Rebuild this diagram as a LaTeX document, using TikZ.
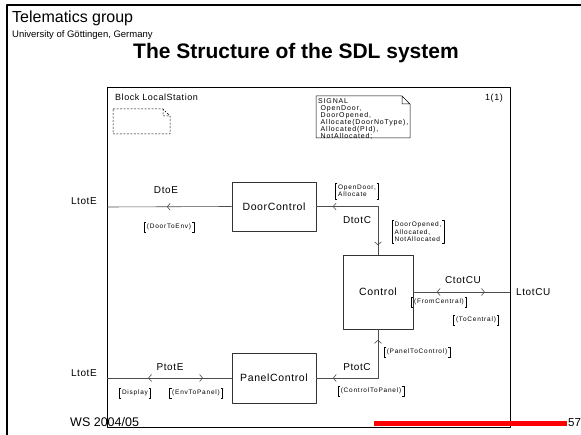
\documentclass[tikz,border=0pt]{standalone}
\usepackage{fontspec}
\setmainfont{Liberation Sans}
\newfontfamily\sdlfont[LetterSpace=6]{Liberation Sans}
\newfontfamily\sdlsmall[LetterSpace=12]{Liberation Sans}
\usetikzlibrary{arrows.meta,decorations.markings}
\tikzset{blk/.style={draw=black!80,line width=0.6pt,minimum width=84pt,minimum height=49pt,inner sep=0pt,font=\sdlfont\fontsize{10.5}{12}\selectfont},
  chan/.style={draw=black!70,line width=0.6pt,postaction=decorate},
  chname/.style={font=\sdlfont\fontsize{10}{12}\selectfont,inner sep=0pt},
  siglist/.style={font=\sdlsmall\fontsize{6.5}{7.5}\selectfont,align=left,inner xsep=2.5pt,inner ysep=1.5pt,
    append after command={\pgfextra{\draw[line width=0.4pt] ([xshift=2pt]\tikzlastnode.north west) -| (\tikzlastnode.south west) -- ++(2pt,0pt) ([xshift=-2pt]\tikzlastnode.north east) -| (\tikzlastnode.south east) -- ++(-2pt,0pt);}}}}

\begin{document}
\begin{tikzpicture}[x=1pt,y=-1pt,>={Straight Barb[length=3pt,width=7pt]},line join=round]
\useasboundingbox (0,0) rectangle (581,435);
% --- slide frame, header and footer
\draw[line width=2pt] (7,435) -- (7,5) -- (581,5);
\node[anchor=base west,font=\fontsize{16}{18}\selectfont,inner sep=0pt] (grp) at (12,23) {Telematics group};
\node[anchor=base west,font=\fontsize{9.5}{11}\selectfont,inner sep=0pt] (uni) at (12,37.5) {University of Göttingen, Germany};
\node[anchor=base,font=\bfseries\fontsize{21}{24}\selectfont,inner sep=0pt] (title) at (296,59) {The Structure of the SDL system};
% --- block frame with its symbols
\draw[line width=0.6pt] (107,87) rectangle (510,427);
\draw[red,line width=4pt] (374,423.5) -- (567,423.5);
\node[anchor=base west,font=\fontsize{12.5}{14}\selectfont,inner sep=0pt] (ws) at (70,426) {WS 2004/05};
\node[anchor=base west,font=\fontsize{11.5}{14}\selectfont,inner sep=0pt] (pgno) at (568,427) {57};
\node[anchor=base west,font=\sdlfont\fontsize{9}{10}\selectfont,inner sep=0pt] (bname) at (115,101) {Block LocalStation};
\node[anchor=base,font=\sdlfont\fontsize{9}{10}\selectfont,inner sep=0pt] (pages) at (494,101) {1(1)};
\draw[dash pattern=on 2pt off 1.5pt,line width=0.5pt] (113,109) -- (163,109) -- (170,116) -- (170,134) -- (113,134) -- cycle (163,109) -- (163,116) -- (170,116);
\draw[line width=0.5pt] (316,96) -- (402,96) -- (410,104) -- (410,138) -- (316,138) -- cycle (402,96) -- (402,104) -- (410,104);
\node[anchor=north west,align=left,font=\sdlsmall\fontsize{7}{7}\selectfont,inner sep=0pt] (sigdef) at (318,98) {SIGNAL\\\hspace*{2.5pt}OpenDoor,\\\hspace*{2.5pt}DoorOpened,\\\hspace*{2.5pt}Allocate(DoorNoType),\\\hspace*{2.5pt}Allocated(PId),\\\hspace*{2.5pt}NotAllocated;};
% --- processes
\node[blk] (door) at (274,206.5) {DoorControl};
\node[blk,minimum width=70pt,minimum height=74pt] (ctrl) at (378,292) {Control};
\node[blk,minimum height=50pt] (panel) at (274,378) {PanelControl};
\coordinate (envD) at (107,207); \coordinate (envP) at (107,378); \coordinate (envC) at (510,292);
% --- channels
\draw[chan,decoration={markings,mark=at position 0.52 with {\arrow{>}}}] (door.west) -- (envD);
\draw[chan,decoration={markings,mark=at position 0.12 with {\arrow{<}},mark=at position 0.85 with {\arrow{>}}}] (ctrl.north) |- (door.east);
\draw[chan,decoration={markings,mark=at position 0.28 with {\arrow{<}},mark=at position 0.74 with {\arrow{>}}}] (ctrl.east) -- (envC);
\draw[chan,decoration={markings,mark=at position 0.13 with {\arrow{<}},mark=at position 0.85 with {\arrow{>}}}] (ctrl.south) |- (panel.east);
\draw[chan,decoration={markings,mark=at position 0.26 with {\arrow{<}},mark=at position 0.67 with {\arrow{>}}}] (panel.west) -- (envP);
% --- channel names and gates
\node[chname,anchor=east] (gD) at (97,201) {LtotE};
\node[chname] (cD) at (166,190) {DtoE};
\node[chname] (cDC) at (357,220) {DtotC};
\node[chname] (cC) at (463,280) {CtotCU};
\node[chname,anchor=west] (gC) at (516,292) {LtotCU};
\node[chname] (cPC) at (357,367) {PtotC};
\node[chname,anchor=east] (gP) at (97,373) {LtotE};
\node[chname] (cP) at (170,367) {PtotE};
% --- signal lists
\node[siglist] (sDE) at (169,227) {(DoorToEnv)};
\node[siglist] (sCD) at (357,191) {OpenDoor,\\Allocate};
\node[siglist] (sDC) at (418,232) {DoorOpened,\\Allocated,\\NotAllocated};
\node[siglist] (sFC) at (439,302) {(FromCentral)};
\node[siglist] (sTC) at (476,320) {(ToCentral)};
\node[siglist] (sPC) at (417,352) {(PanelToControl)};
\node[siglist] (sCP) at (371,391) {(ControlToPanel)};
\node[siglist] (sDi) at (135,393) {Display};
\node[siglist] (sEP) at (196,393) {(EnvToPanel)};
\end{tikzpicture}
\end{document}
